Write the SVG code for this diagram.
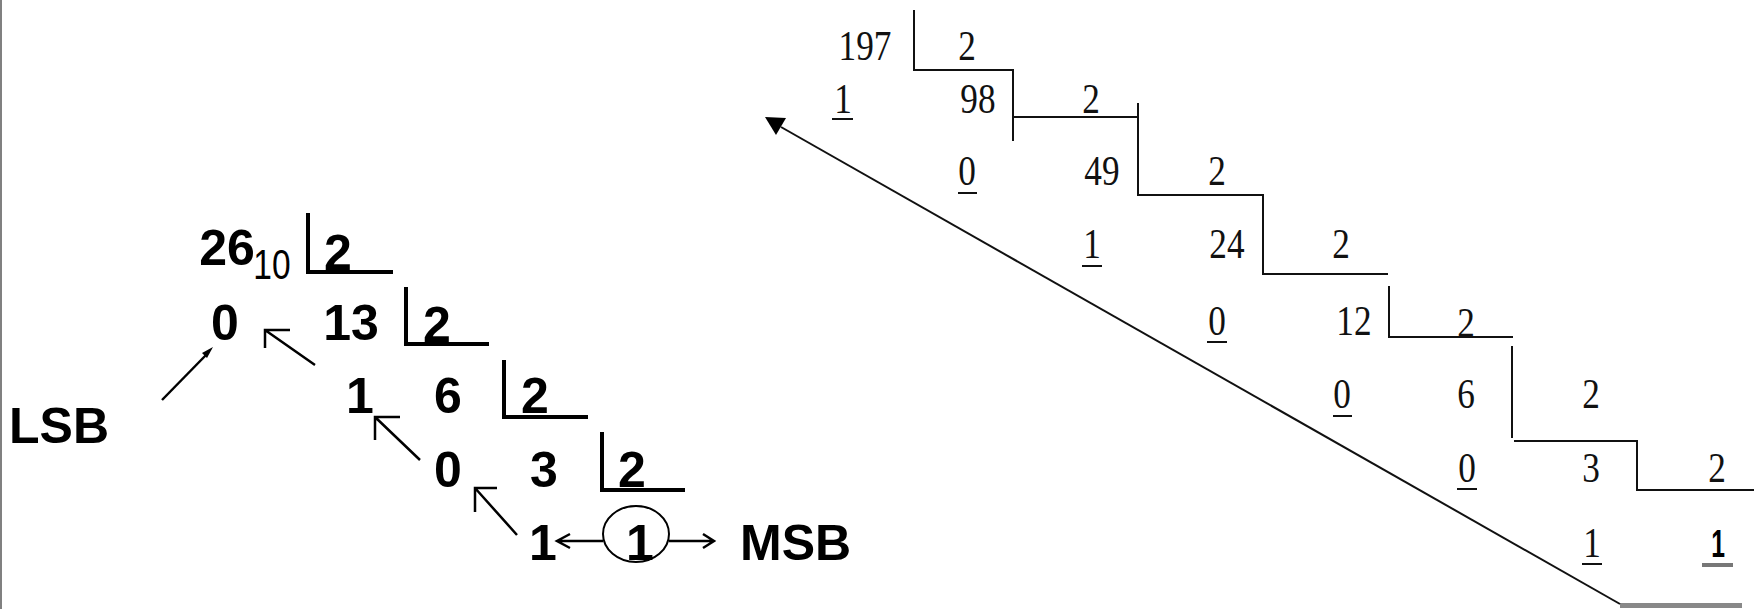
<svg xmlns="http://www.w3.org/2000/svg" width="1754" height="609" viewBox="0 0 1754 609">
<style>
.b{font-family:"Liberation Sans",Arial,sans-serif;font-weight:bold;font-size:50px;fill:#000}
.m{font-family:"Liberation Serif","Times New Roman",serif;font-size:43px;fill:#111;text-anchor:middle}
.br{fill:none;stroke:#000;stroke-width:4}
.st{fill:none;stroke:#111;stroke-width:2}
.ar{fill:none;stroke:#000;stroke-width:2.5}
.ul{stroke:#111;stroke-width:2}
</style>
<rect x="0" y="0" width="1754" height="609" fill="#fff"/>
<rect x="0" y="0" width="2" height="609" fill="#808080"/>

<g id="left-division">
  <text class="b" x="227" y="265" text-anchor="middle">26</text>
  <text transform="translate(272,279) scale(0.78,1)" style="font-family:'Liberation Sans',Arial,sans-serif;font-size:43px" text-anchor="middle">10</text>
  <path class="br" d="M308,213 V272 H393"/>
  <text class="b" x="338" y="270" text-anchor="middle">2</text>

  <text class="b" x="225" y="340" text-anchor="middle">0</text>
  <text class="b" x="351" y="340" text-anchor="middle">13</text>
  <path class="br" d="M406,287 V344 H489"/>
  <text class="b" x="437" y="342" text-anchor="middle">2</text>

  <text class="b" x="360" y="413" text-anchor="middle">1</text>
  <text class="b" x="448" y="413" text-anchor="middle">6</text>
  <path class="br" d="M504,360 V417 H588"/>
  <text class="b" x="535" y="413" text-anchor="middle">2</text>

  <text class="b" x="448" y="487" text-anchor="middle">0</text>
  <text class="b" x="544" y="487" text-anchor="middle">3</text>
  <path class="br" d="M602,432 V490 H685"/>
  <text class="b" x="632" y="487" text-anchor="middle">2</text>

  <text class="b" x="543" y="560" text-anchor="middle">1</text>
  <ellipse cx="636" cy="534" rx="33" ry="28" fill="none" stroke="#000" stroke-width="2"/>
  <text class="b" x="640" y="560" text-anchor="middle">1</text>
</g>
<g id="lsb"><text class="b" x="9" y="443">LSB</text></g>
<g id="msb"><text class="b" x="740" y="560">MSB</text></g>

<g id="left-connectors">
  <path class="ar" d="M162,400 L207,354"/>
  <polygon points="213,347 207,358 202,353" fill="#000"/>
  <path class="ar" d="M315,365 L265,330 M290,330 H265 V348"/>
  <path class="ar" d="M420,460 L375,417 M400,417 H375 V440"/>
  <path class="ar" d="M517,535 L475,488 M497,488 H475 V512"/>
  <path class="ar" d="M603,541 H557 M570,534 L557,541 L570,548"/>
  <path class="ar" d="M669,541 H714 M703,534 L714,541 L703,548"/>
</g>

<g id="right-division">
  <path class="st" d="M914,10 V70 H1013 V141"/>
  <path class="st" d="M1013,117 H1138"/>
  <path class="st" d="M1138,103 V195 H1263 V274 H1388"/>
  <path class="st" d="M1389,286 V337 H1513"/>
  <path class="st" d="M1512,346 V438"/>
  <path class="st" d="M1514,441 H1637 V490 H1754"/>

  <text class="m" transform="translate(865,60) scale(0.82,1)">197</text>
  <text class="m" transform="translate(967,60) scale(0.82,1)">2</text>

  <text class="m" transform="translate(843,113) scale(0.82,1)">1</text>
  <line class="ul" x1="832" y1="119" x2="853" y2="119"/>
  <text class="m" transform="translate(978,113) scale(0.82,1)">98</text>
  <text class="m" transform="translate(1091,113) scale(0.82,1)">2</text>

  <text class="m" transform="translate(967,185) scale(0.82,1)">0</text>
  <line class="ul" x1="958" y1="193" x2="977" y2="193"/>
  <text class="m" transform="translate(1102,185) scale(0.82,1)">49</text>
  <text class="m" transform="translate(1217,185) scale(0.82,1)">2</text>

  <text class="m" transform="translate(1092,258) scale(0.82,1)">1</text>
  <line class="ul" x1="1082" y1="266" x2="1102" y2="266"/>
  <text class="m" transform="translate(1227,258) scale(0.82,1)">24</text>
  <text class="m" transform="translate(1341,258) scale(0.82,1)">2</text>

  <text class="m" transform="translate(1217,335) scale(0.82,1)">0</text>
  <line class="ul" x1="1207" y1="342" x2="1227" y2="342"/>
  <text class="m" transform="translate(1354,335) scale(0.82,1)">12</text>
  <text class="m" transform="translate(1466,337) scale(0.82,1)">2</text>

  <text class="m" transform="translate(1342,408) scale(0.82,1)">0</text>
  <line class="ul" x1="1333" y1="416" x2="1352" y2="416"/>
  <text class="m" transform="translate(1466,408) scale(0.82,1)">6</text>
  <text class="m" transform="translate(1591,408) scale(0.82,1)">2</text>

  <text class="m" transform="translate(1467,482) scale(0.82,1)">0</text>
  <line class="ul" x1="1457" y1="489" x2="1477" y2="489"/>
  <text class="m" transform="translate(1591,482) scale(0.82,1)">3</text>
  <text class="m" transform="translate(1717,482) scale(0.82,1)">2</text>

  <text class="m" transform="translate(1592,557) scale(0.82,1)">1</text>
  <line class="ul" x1="1582" y1="564" x2="1602" y2="564"/>
  <text transform="translate(1718,557) scale(0.65,1)" style="font-family:'Liberation Sans',Arial,sans-serif;font-weight:bold;font-size:38px" text-anchor="middle">1</text>
  <rect x="1702" y="563" width="31" height="4" fill="#777"/>
  <rect x="1620" y="603" width="122" height="5" fill="#888"/>
</g>

<g id="right-connectors">
  <line class="st" x1="781" y1="127" x2="1620" y2="604"/>
  <polygon points="765,117 786,118 776,135" fill="#000"/>
</g>
</svg>
